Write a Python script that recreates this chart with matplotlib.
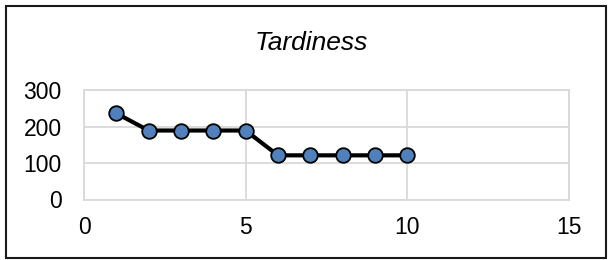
import matplotlib
matplotlib.use("Agg")
import matplotlib.pyplot as plt
from matplotlib.patches import Rectangle

# Data
runs = [1, 2, 3, 4, 5, 6, 7, 8, 9, 10]
tardiness = [236, 189, 189, 189, 189, 121, 121, 121, 121, 121]
x_ticks = [0, 5, 10, 15]
y_ticks = [0, 100, 200, 300]

plt.rcParams['font.family'] = ['Liberation Sans', 'DejaVu Sans']

fig = plt.figure(figsize=(6.08, 2.6), dpi=100)
ax = fig.add_axes([84 / 608, 1 - 199.5 / 260, (569 - 84) / 608, (199.5 - 90) / 260])

ax.plot(runs, tardiness, color='black', linewidth=3, marker='o', markersize=10.5,
        markerfacecolor='#4f81bd', markeredgecolor='black', markeredgewidth=1.3,
        zorder=3, clip_on=False)

ax.set_xlim(0, 15)
ax.set_ylim(0, 300)
ax.set_xticks(x_ticks)
ax.set_yticks(y_ticks)
ax.grid(True, color='#d9d9d9', linewidth=1.3)
for s in ax.spines.values():
    s.set_color('#d9d9d9')
    s.set_linewidth(1.3)
ax.tick_params(length=0, labelsize=16.5, colors='black')
ax.tick_params(axis='y', pad=16)
ax.tick_params(axis='x', pad=12)

fig.text(311 / 608, 1 - 43 / 260, 'Tardiness', ha='center', va='center',
         fontsize=19, style='italic')

# chart border
fig.patches.append(Rectangle((6 / 608, 2.5 / 260), 600 / 608, 251.5 / 260,
                             transform=fig.transFigure, fill=False,
                             edgecolor='#1a1a1a', linewidth=1.5))

fig.savefig('out.png', dpi=100)
